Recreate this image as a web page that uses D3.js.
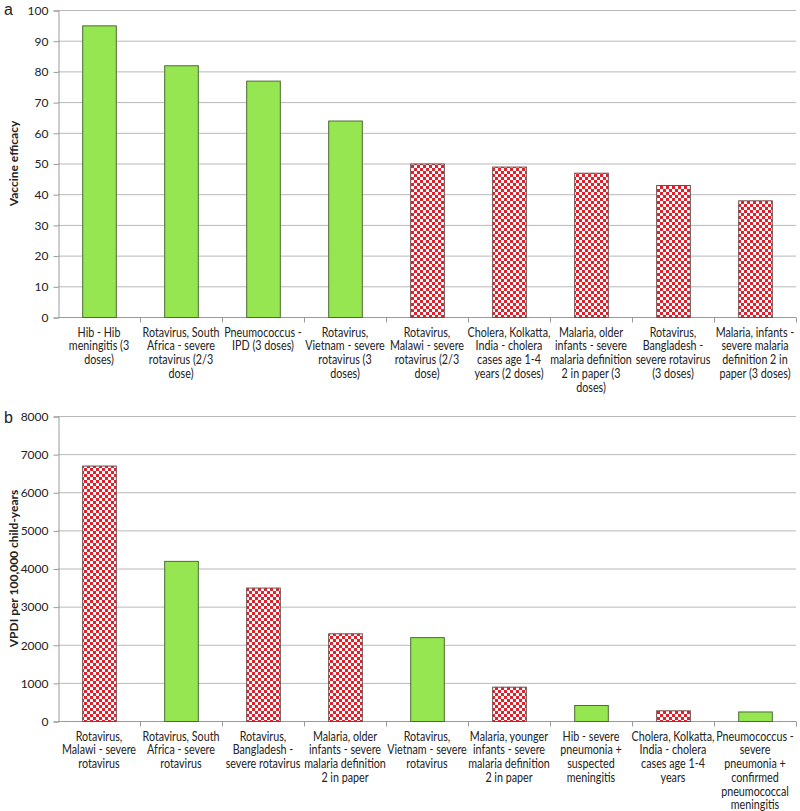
<!DOCTYPE html>
<html><head><meta charset="utf-8">
<script src="https://cdn.jsdelivr.net/npm/d3@7"></script>
<style>body{margin:0;background:#fff}svg{display:block}text{font-family:Lato,"Open Sans",sans-serif}</style>
</head><body><svg id="c" width="800" height="811"></svg>
<script>
// Panel a
const catsA = ["Hib - Hib|meningitis (3|doses)","Rotavirus, South|Africa - severe|rotavirus (2/3|dose)","Pneumococcus -|IPD (3 doses)","Rotavirus,|Vietnam - severe|rotavirus (3|doses)","Rotavirus,|Malawi - severe|rotavirus (2/3|dose)","Cholera, Kolkatta,|India - cholera|cases age 1-4|years (2 doses)","Malaria, older|infants - severe|malaria definition|2 in paper (3|doses)","Rotavirus,|Bangladesh -|severe rotavirus|(3 doses)","Malaria, infants -|severe malaria|definition 2 in|paper (3 doses)"];
const valsA = [95,82,77,64,50,49,47,43,38];
const typeA = ["solid","solid","solid","solid","check","check","check","check","check"];
const ticksA = [0,10,20,30,40,50,60,70,80,90,100];
// Panel b
const catsB = ["Rotavirus,|Malawi - severe|rotavirus","Rotavirus, South|Africa - severe|rotavirus","Rotavirus,|Bangladesh -|severe rotavirus","Malaria, older|infants - severe|malaria definition|2 in paper","Rotavirus,|Vietnam - severe|rotavirus","Malaria, younger|infants - severe|malaria definition|2 in paper","Hib - severe|pneumonia +|suspected|meningitis","Cholera, Kolkatta,|India - cholera|cases age 1-4|years","Pneumococcus -|severe|pneumonia +|confirmed|pneumococcal|meningitis"];
const valsB = [6700,4200,3500,2300,2200,900,420,280,250];
const typeB = ["check","solid","check","check","solid","check","solid","check","solid"];
const ticksB = [0,1000,2000,3000,4000,5000,6000,7000,8000];

const svg = d3.select("#c");
const defs = svg.append("defs");
const P = 6, H = P/2;
const pat = defs.append("pattern").attr("id","chk").attr("patternUnits","userSpaceOnUse").attr("width",P).attr("height",P);
pat.append("rect").attr("width",P).attr("height",P).attr("fill","#fff");
pat.append("rect").attr("width",H).attr("height",H).attr("fill","#e3202a");
pat.append("rect").attr("x",H).attr("y",H).attr("width",H).attr("height",H).attr("fill","#e3202a");

function panel(cats, vals, types, ticks, yTop, yBot, maxV, ylabel, letter, letterY) {
  const x = d3.scaleBand().domain(cats).range([58,796]).paddingInner(0.59).paddingOuter(0.295);
  const xb = d3.scaleBand().domain(cats).range([58,796]);
  const y = d3.scaleLinear().domain([0,maxV]).range([yBot,yTop]);
  const g = svg.append("g");
  g.selectAll(".grid").data(ticks.slice(1)).join("line")
    .attr("x1",58).attr("x2",796).attr("y1",d=>y(d)+0.5).attr("y2",d=>y(d)+0.5)
    .attr("stroke","#b8b8b8").attr("stroke-width",1);
  const ya = g.append("g").attr("transform","translate(58.5,0.5)").call(d3.axisLeft(y).tickValues(ticks).tickFormat(d3.format("d")).tickSize(5).tickPadding(5));
  ya.select(".domain").attr("stroke","#9a9a9a");
  ya.selectAll(".tick line").attr("stroke","#9a9a9a");
  ya.selectAll("text").attr("font-size",12).attr("fill","#222").style("font-family","Lato,sans-serif");
  const xa = g.append("g").attr("transform",`translate(0,${yBot+0.5})`);
  xa.append("line").attr("x1",58).attr("x2",796).attr("stroke","#9a9a9a");
  xa.selectAll(".tk").data(cats).join("line")
    .attr("x1",d=>xb(d)+xb.bandwidth()+0.5).attr("x2",d=>xb(d)+xb.bandwidth()+0.5)
    .attr("y1",0).attr("y2",5).attr("stroke","#9a9a9a");
  g.selectAll(".bar").data(cats).join("rect")
    .attr("x",d=>x(d)+0.5).attr("width",x.bandwidth())
    .attr("y",(d,i)=>y(vals[i])+0.5).attr("height",(d,i)=>yBot-y(vals[i]))
    .attr("fill",(d,i)=>types[i]==="solid"?"#96e651":"url(#chk)")
    .attr("stroke",(d,i)=>types[i]==="solid"?"#4d6b35":"#6e4a4a").attr("stroke-width",1);
  const lab = g.selectAll(".lab").data(cats).join("text")
    .attr("text-anchor","middle").attr("font-size",12.5).attr("fill","#222")
    .attr("transform",d=>`translate(${xb(d)+xb.bandwidth()/2},${yBot+19.5}) scale(0.86,1)`);
  lab.selectAll("tspan").data(d=>d.split("|")).join("tspan")
    .attr("x",0).attr("dy",(d,i)=>i===0?0:13.8).text(d=>d);
  svg.append("text").attr("transform",`translate(18,${(yTop+yBot)/2}) rotate(-90)`)
    .attr("text-anchor","middle").attr("font-size",12).attr("font-weight","bold").attr("fill","#222").text(ylabel);
  svg.append("text").attr("x",4).attr("y",letterY).attr("font-size",16).attr("fill","#222")
    .style("font-family","'Liberation Sans',sans-serif").text(letter);
}
panel(catsA, valsA, typeA, ticksA, 10, 317, 100, "Vaccine efficacy", "a", 15);
panel(catsB, valsB, typeB, ticksB, 416, 721, 8000, "VPDI per 100,000 child-years", "b", 423);
</script></body></html>
